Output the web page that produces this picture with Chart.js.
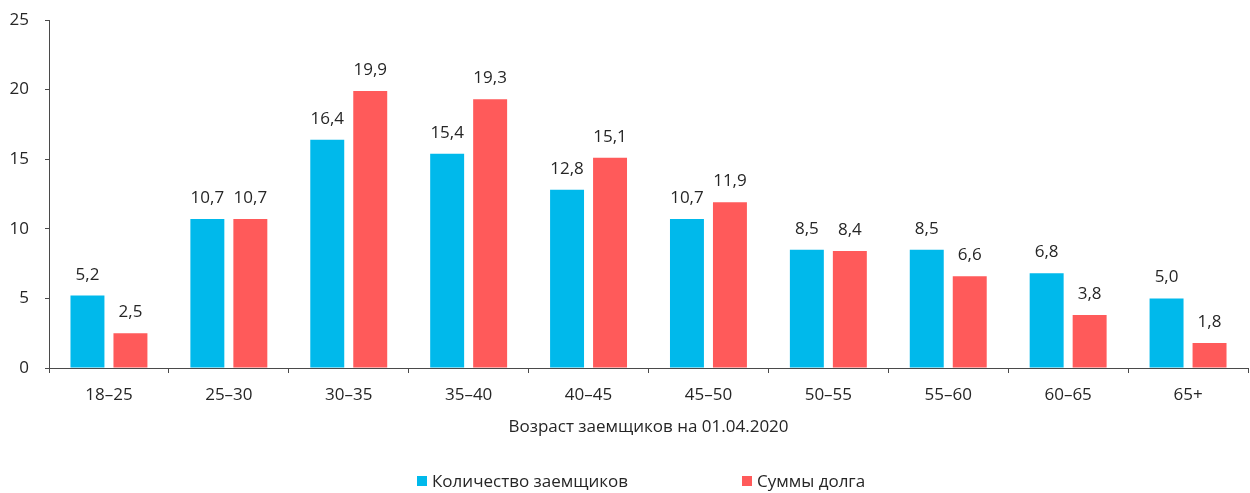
<!DOCTYPE html>
<html>
<head>
<meta charset="utf-8">
<script src="https://cdn.jsdelivr.net/npm/chart.js@4"></script>
<style>
html,body{margin:0;padding:0;background:#fff;}
#wrap{position:relative;width:1250px;height:493px;overflow:hidden;}
canvas{display:block;}
.lg{position:absolute;top:471px;font-family:'Open Sans',sans-serif;font-size:17px;color:#262626;display:flex;align-items:center;white-space:nowrap;line-height:20px;}
.sw{width:10px;height:10px;margin-right:5px;display:inline-block;}
</style>
</head>
<body>
<div id="wrap">
<canvas id="c" width="1250" height="493"></canvas>
</div>
<script>
const categories = ['18–25','25–30','30–35','35–40','40–45','45–50','50–55','55–60','60–65','65+'];
const borrowersCount = [5.2, 10.7, 16.4, 15.4, 12.8, 10.7, 8.5, 8.5, 6.8, 5.0];
const debtAmounts = [2.5, 10.7, 19.9, 19.3, 15.1, 11.9, 8.4, 6.6, 3.8, 1.8];
const seriesNames = ['Количество заемщиков', 'Суммы долга'];
const seriesColors = ['#00b9eb', '#ff5a5a'];
const xTitle = 'Возраст заемщиков на 01.04.2020';
const yTicks = [0, 5, 10, 15, 20, 25];

const FONT = "'Open Sans', sans-serif";
const TEXT = '#262626';
const AXIS = '#4a4a4a';

const valueLabels = {
  id: 'valueLabels',
  afterDatasetsDraw(chart) {
    const ctx = chart.ctx;
    ctx.save();
    ctx.font = '17px ' + FONT;
    ctx.fillStyle = TEXT;
    ctx.textAlign = 'center';
    ctx.textBaseline = 'alphabetic';
    chart.data.datasets.forEach((ds, i) => {
      const meta = chart.getDatasetMeta(i);
      meta.data.forEach((el, j) => {
        const v = ds.data[j];
        ctx.fillText(v.toFixed(1).replace('.', ','), el.x, el.y - 16);
      });
    });
    ctx.restore();
  }
};

new Chart(document.getElementById('c'), {
  type: 'bar',
  data: {
    labels: categories,
    datasets: [
      { label: seriesNames[0], data: borrowersCount, backgroundColor: seriesColors[0], barPercentage: 0.79, categoryPercentage: 0.717 },
      { label: seriesNames[1], data: debtAmounts, backgroundColor: seriesColors[1], barPercentage: 0.79, categoryPercentage: 0.717 }
    ]
  },
  options: {
    responsive: false,
    devicePixelRatio: 1,
    animation: false,
    layout: { padding: { top: 20, right: 2, bottom: 50, left: 0 } },
    plugins: {
      legend: { display: false },
      tooltip: { enabled: false }
    },
    scales: {
      x: {
        offset: true,
        grid: { offset: true, drawOnChartArea: false, drawTicks: true, tickLength: 5, color: AXIS },
        border: { color: AXIS, width: 1 },
        ticks: { font: { family: FONT, size: 17 }, color: TEXT, padding: 12, maxRotation: 0 },
        title: { display: true, text: xTitle, font: { family: FONT, size: 17 }, color: TEXT, padding: { top: 0, bottom: 6 } },
        afterFit(s) { s.height = 75; }
      },
      y: {
        min: 0, max: 25,
        afterBuildTicks(s) { s.ticks = yTicks.map(v => ({ value: v })); },
        grid: { drawOnChartArea: false, drawTicks: true, tickLength: 4, color: AXIS },
        border: { color: AXIS, width: 1 },
        ticks: { font: { family: FONT, size: 17 }, color: TEXT, padding: 16 },
        afterFit(s) { s.width = 49; s.paddingTop = 0; s.paddingBottom = 0; }
      }
    }
  },
  plugins: [valueLabels]
});

const wrap = document.getElementById('wrap');
const legendLefts = [417, 742];
seriesNames.forEach((name, i) => {
  const d = document.createElement('div');
  d.className = 'lg';
  d.style.left = legendLefts[i] + 'px';
  const sw = document.createElement('span');
  sw.className = 'sw';
  sw.style.background = seriesColors[i];
  d.appendChild(sw);
  d.appendChild(document.createTextNode(name));
  wrap.appendChild(d);
});
</script>
</body>
</html>
